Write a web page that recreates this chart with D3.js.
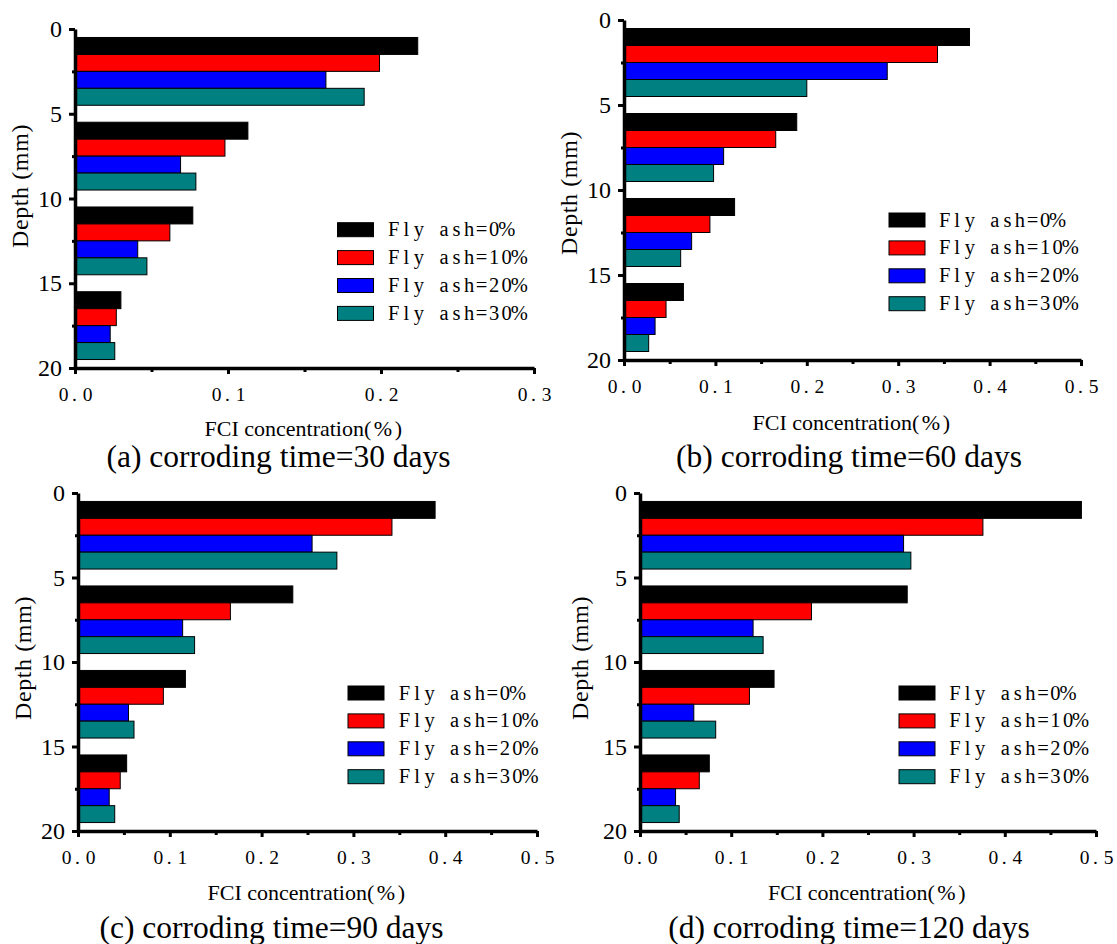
<!DOCTYPE html>
<html>
<head>
<meta charset="utf-8">
<script src="https://cdn.jsdelivr.net/npm/d3@7"></script>
<style>
  html, body { margin: 0; padding: 0; background: #fff; }
  svg { display: block; }
</style>
</head>
<body>
<svg id="chart" width="1117" height="944"></svg>
<script>
// ---------------- DATA ----------------
const seriesNames = ["Fly ash=0%", "Fly ash=10%", "Fly ash=20%", "Fly ash=30%"];
const depthCenters = [2.5, 7.5, 12.5, 17.5];      // depth (mm) at centre of each group
const yTicksMajor = [0, 5, 10, 15, 20];
const yTicksMinor = [2.5, 7.5, 12.5, 17.5];
const xTicksA = [0, 0.1, 0.2, 0.3];
const xTicksMinorA = [0.05, 0.15, 0.25];
const xTicksB = [0, 0.1, 0.2, 0.3, 0.4, 0.5];
const xTicksMinorB = [0.05, 0.15, 0.25, 0.35, 0.45];

// 30 days
const d30_fa0  = [0.224, 0.113, 0.077, 0.030];
const d30_fa10 = [0.199, 0.098, 0.062, 0.027];
const d30_fa20 = [0.164, 0.069, 0.041, 0.023];
const d30_fa30 = [0.189, 0.079, 0.047, 0.026];
// 60 days
const d60_fa0  = [0.378, 0.189, 0.121, 0.065];
const d60_fa10 = [0.343, 0.166, 0.094, 0.046];
const d60_fa20 = [0.288, 0.109, 0.074, 0.034];
const d60_fa30 = [0.200, 0.098, 0.062, 0.027];
// 90 days
const d90_fa0  = [0.389, 0.234, 0.117, 0.053];
const d90_fa10 = [0.342, 0.166, 0.093, 0.046];
const d90_fa20 = [0.255, 0.114, 0.055, 0.034];
const d90_fa30 = [0.282, 0.127, 0.061, 0.040];
// 120 days
const d120_fa0  = [0.484, 0.293, 0.147, 0.076];
const d120_fa10 = [0.376, 0.188, 0.120, 0.065];
const d120_fa20 = [0.289, 0.124, 0.059, 0.039];
const d120_fa30 = [0.297, 0.135, 0.083, 0.043];

const titles = ["(a) corroding time=30 days", "(b) corroding time=60 days",
                "(c) corroding time=90 days", "(d) corroding time=120 days"];
const xTitle = "FCI concentration";
const xTitleUnit = "(%)";
const yTitle = "Depth (mm)";

// ---------------- STYLE / LAYOUT ----------------
const colors = ["#000000", "#ff0000", "#0000ff", "#008080"];
const serif = "'Liberation Serif', 'Times New Roman', serif";

const panels = [
  { values: [d30_fa0, d30_fa10, d30_fa20, d30_fa30], xMax: 0.3, xt: xTicksA, xtm: xTicksMinorA,
    x0: 75, x1: 534, y0: 29, y1: 368,
    leg: [337.5, 222.7, 387.5], title: [278.5, 467], xTitleY: 436, yTitle: [28, 186] },
  { values: [d60_fa0, d60_fa10, d60_fa20, d60_fa30], xMax: 0.5, xt: xTicksB, xtm: xTicksMinorB,
    x0: 624, x1: 1081, y0: 20, y1: 360,
    leg: [889, 213, 938.4], title: [849, 467], xTitleY: 430, yTitle: [577, 193] },
  { values: [d90_fa0, d90_fa10, d90_fa20, d90_fa30], xMax: 0.5, xt: xTicksB, xtm: xTicksMinorB,
    x0: 78, x1: 537, y0: 493, y1: 831,
    leg: [348, 686, 398.2], title: [271.5, 938], xTitleY: 900, yTitle: [31, 658] },
  { values: [d120_fa0, d120_fa10, d120_fa20, d120_fa30], xMax: 0.5, xt: xTicksB, xtm: xTicksMinorB,
    x0: 640, x1: 1096, y0: 493, y1: 831,
    leg: [899, 686, 948.8], title: [849, 938], xTitleY: 900, yTitle: [588, 658] }
];

// draw text with fixed-width character cells (mimics half-width CJK font metrics)
function cellText(textSel, cell, xRef, anchor) {
  const node = textSel.node();
  const str = node.textContent;
  const n = str.length;
  const total = n * cell;
  const start = anchor === "middle" ? xRef - total / 2 : xRef;
  const xs = [];
  for (let i = 0; i < n; i++) {
    const ch = str[i];
    let w = 0;
    try { w = node.getSubStringLength(i, 1); } catch (e) { w = cell * 0.5; }
    let off = (cell - w) / 2;
    if (ch === ".") off = 2.5;
    xs.push((start + i * cell + off).toFixed(2));
  }
  textSel.attr("x", xs.join(" ")).attr("text-anchor", "start");
}

const svg = d3.select("#chart");

panels.forEach((p, pi) => {
  const g = svg.append("g");
  const x = d3.scaleLinear().domain([0, p.xMax]).range([p.x0, p.x1]);
  const y = d3.scaleLinear().domain([0, 20]).range([p.y0, p.y1]);
  // offset of each series inside a group, in depth units
  const inner = d3.scaleBand().domain(seriesNames).range([-2, 2]).padding(0);

  // bars
  seriesNames.forEach((s, si) => {
    g.selectAll(null)
      .data(p.values[si].map((v, i) => ({ v, c: depthCenters[i] })))
      .join("rect")
      .attr("x", x(0))
      .attr("y", d => y(d.c + inner(s)))
      .attr("width", d => x(d.v) - x(0))
      .attr("height", y(inner.bandwidth()) - y(0))
      .attr("fill", colors[si])
      .attr("stroke", "#000")
      .attr("stroke-width", 1);
  });

  // minor ticks
  const xMinor = d3.axisBottom(x).tickValues(p.xtm).tickSize(4).tickFormat("");
  g.append("g").attr("transform", `translate(0,${p.y1})`).call(xMinor)
    .call(a => a.select(".domain").remove())
    .call(a => a.selectAll("line").attr("stroke", "#000").attr("stroke-width", 3));
  const yMinor = d3.axisLeft(y).tickValues(yTicksMinor).tickSize(3).tickFormat("");
  g.append("g").attr("transform", `translate(${p.x0},0)`).call(yMinor)
    .call(a => a.select(".domain").remove())
    .call(a => a.selectAll("line").attr("stroke", "#000").attr("stroke-width", 3));

  // x axis
  const xAxis = d3.axisBottom(x).tickValues(p.xt).tickSize(6).tickSizeOuter(0)
    .tickPadding(12).tickFormat(d3.format(".1f"));
  const xg = g.append("g").attr("transform", `translate(0,${p.y1})`).call(xAxis)
    .call(a => a.select(".domain").attr("stroke", "#000").attr("stroke-width", 3.5))
    .call(a => a.selectAll("line").attr("stroke", "#000").attr("stroke-width", 3));
  xg.selectAll(".tick text")
    .attr("font-family", serif).attr("font-size", 19.5).attr("fill", "#000")
    .attr("dy", null).attr("y", 33)
    .each(function () { cellText(d3.select(this), 12, 0, "middle"); });

  // y axis
  const yAxis = d3.axisLeft(y).tickValues(yTicksMajor).tickSize(6).tickSizeOuter(0)
    .tickPadding(7);
  g.append("g").attr("transform", `translate(${p.x0},0)`).call(yAxis)
    .call(a => a.select(".domain").attr("stroke", "#000").attr("stroke-width", 3.5))
    .call(a => a.selectAll("line").attr("stroke", "#000").attr("stroke-width", 3))
    .call(a => a.selectAll("text").attr("font-family", serif).attr("font-size", 24)
      .attr("fill", "#000"));

  // axis titles
  const xt = g.append("text")
    .attr("x", (p.x0 + p.x1) / 2).attr("y", p.xTitleY)
    .attr("text-anchor", "middle")
    .attr("font-family", serif).attr("font-size", 22);
  xt.append("tspan").text(xTitle);
  xt.append("tspan").attr("letter-spacing", 2.5).text(xTitleUnit);

  g.append("text")
    .attr("transform", `translate(${p.yTitle[0]},${p.yTitle[1]}) rotate(-90)`)
    .attr("text-anchor", "middle")
    .attr("font-family", serif).attr("font-size", 24).attr("letter-spacing", 0.6)
    .text(yTitle);

  // panel title
  g.append("text")
    .attr("x", p.title[0]).attr("y", p.title[1])
    .attr("text-anchor", "middle")
    .attr("font-family", serif).attr("font-size", 31.5)
    .text(titles[pi]);

  // legend
  const leg = g.append("g");
  seriesNames.forEach((s, si) => {
    const ry = p.leg[1] + si * 27.9;
    leg.append("rect").attr("x", p.leg[0]).attr("y", ry).attr("width", 36).attr("height", 14)
      .attr("fill", colors[si]).attr("stroke", "#000").attr("stroke-width", 1);
    const t = leg.append("text").attr("y", ry + 13.5)
      .attr("font-family", serif).attr("font-size", 20.5).attr("fill", "#000")
      .text(s);
    cellText(t, 12.55, p.leg[2], "start");
  });
});
</script>
</body>
</html>
